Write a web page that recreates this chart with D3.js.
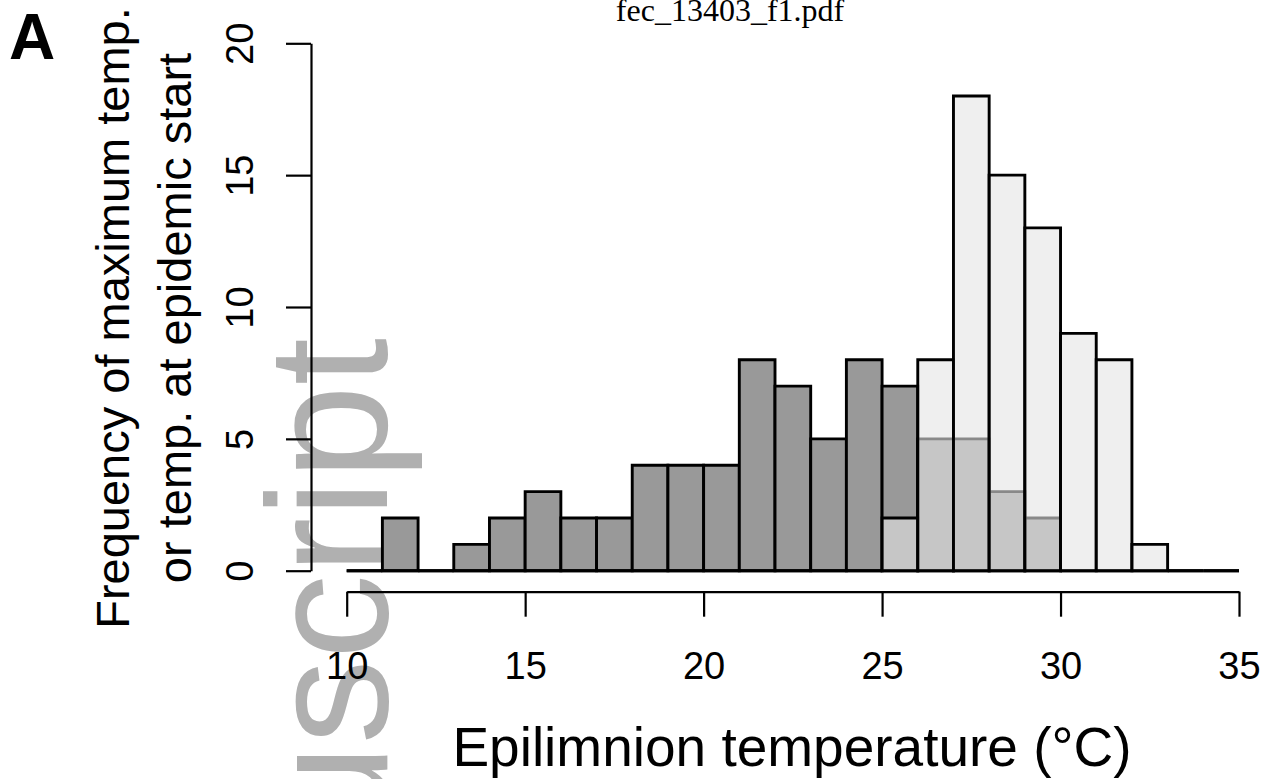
<!DOCTYPE html>
<html>
<head>
<meta charset="utf-8">
<script src="https://cdn.jsdelivr.net/npm/d3@7"></script>
<style>
  body { margin: 0; background: #fff; }
  svg { display: block; }
</style>
</head>
<body>
<svg id="chart" width="1267" height="779"></svg>
<script>
// Histogram bin edges (°C), one-degree bins
const breaks = [10, 11, 12, 13, 14, 15, 16, 17, 18, 19, 20, 21, 22, 23, 24, 25,
                26, 27, 28, 29, 30, 31, 32, 33, 34, 35];
// Counts of epilimnion temperature at epidemic start (dark bars)
const startCounts = [0, 2, 0, 1, 2, 3, 2, 2, 4, 4, 4, 8, 7, 5, 8, 7,
                     5, 5, 3, 2, 0, 0, 0, 0, 0];
// Counts of maximum epilimnion temperature (light, translucent bars)
const maxCounts = [0, 0, 0, 0, 0, 0, 0, 0, 0, 0, 0, 0, 0, 0, 0, 2,
                   8, 18, 15, 13, 9, 8, 1, 0, 0];
const xTicks = [10, 15, 20, 25, 30, 35];
const yTicks = [0, 5, 10, 15, 20];

const svg = d3.select("#chart");
const sans = "'Liberation Sans', Arial, Helvetica, sans-serif";

const x = d3.scaleLinear().domain([10, 35]).range([346.7, 1239]);
const y = d3.scaleLinear().domain([0, 20]).range([570.7, 43.3]);

// Background
svg.append("rect").attr("width", 1267).attr("height", 779).attr("fill", "#fff");

// Repository watermark, behind the plot
svg.append("text")
  .attr("transform", "translate(387,338) rotate(-90)")
  .attr("text-anchor", "end")
  .attr("font-family", sans)
  .attr("font-size", 170)
  .attr("fill", "#b0b0b0")
  .text("Author Manuscript");

// File name header
svg.append("text")
  .attr("x", 730).attr("y", 21)
  .attr("text-anchor", "middle")
  .attr("font-family", "'Liberation Serif', 'DejaVu Serif', serif")
  .attr("font-size", 32)
  .attr("fill", "#000")
  .text("fec_13403_f1.pdf");

// Panel letter
svg.append("text")
  .attr("x", 9).attr("y", 59)
  .attr("font-family", sans)
  .attr("font-weight", "bold")
  .attr("font-size", 64)
  .text("A");

// Bars are drawn as closed paths so that empty bins still show as a line on zero
const bins = breaks.slice(0, -1).map((b, i) => ({ x0: b, x1: breaks[i + 1] }));
function barPath(d, count) {
  const x0 = x(d.x0), x1 = x(d.x1), y0 = y(0), y1 = y(count);
  return `M${x0},${y0}H${x1}V${y1}H${x0}Z`;
}

svg.append("g")
  .selectAll("path")
  .data(bins)
  .join("path")
  .attr("d", (d, i) => barPath(d, startCounts[i]))
  .attr("fill", "#999999")
  .attr("stroke", "#000")
  .attr("stroke-width", 2.9)
  .attr("stroke-linejoin", "miter");

svg.append("g")
  .selectAll("path")
  .data(bins)
  .join("path")
  .attr("d", (d, i) => barPath(d, maxCounts[i]))
  .attr("fill", "#e4e4e4")
  .attr("fill-opacity", 0.6)
  .attr("stroke", "#000")
  .attr("stroke-width", 2.9)
  .attr("stroke-linejoin", "miter");

// X axis (offset below the bars)
const xAxis = d3.axisBottom(x).tickValues(xTicks).tickSize(25).tickSizeOuter(0).tickFormat(d3.format("d"));
const gx = svg.append("g").attr("transform", "translate(0,591.7)").call(xAxis);
gx.select(".domain").attr("stroke-width", 2.2);
gx.selectAll(".tick line").attr("stroke-width", 2.2);
gx.selectAll(".tick text")
  .attr("y", 87.3).attr("dy", null)
  .attr("font-family", sans).attr("font-size", 38).attr("fill", "#000");

// Y axis (offset left of the bars), labels parallel to the axis
const yAxis = d3.axisLeft(y).tickValues(yTicks).tickSize(25).tickSizeOuter(0).tickFormat(d3.format("d"));
const gy = svg.append("g").attr("transform", "translate(311,0)").call(yAxis);
gy.select(".domain").attr("stroke-width", 2.2);
gy.selectAll(".tick line").attr("stroke-width", 2.2);
gy.selectAll(".tick text")
  .attr("x", null).attr("dy", null)
  .attr("transform", "translate(-58,0) rotate(-90)")
  .attr("text-anchor", "middle")
  .attr("font-family", sans).attr("font-size", 38).attr("fill", "#000");

// Axis titles
const xTitle = svg.append("text")
  .attr("x", 792).attr("y", 766)
  .attr("text-anchor", "middle")
  .attr("font-family", sans).attr("font-size", 55);
xTitle.append("tspan").text("Epilimnion temperature (");
xTitle.append("tspan").text("°");
xTitle.append("tspan").text("C)");

const yTitle = svg.append("text")
  .attr("transform", "translate(129,318) rotate(-90)")
  .attr("text-anchor", "middle")
  .attr("font-family", sans).attr("font-size", 47);
yTitle.append("tspan").attr("x", 0).attr("y", 0).text("Frequency of maximum temp.");
yTitle.append("tspan").attr("x", 0).attr("y", 62).text("or temp. at epidemic start");
</script>
</body>
</html>
